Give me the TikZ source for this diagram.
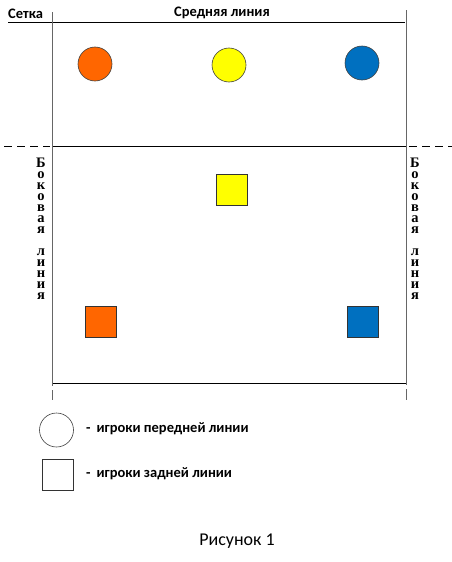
\documentclass[tikz,border=0pt]{standalone}
\usepackage{fontspec}
\setmainfont{Carlito}
\newfontfamily\serifside{Liberation Serif}
\begin{document}
\begin{tikzpicture}[x=1pt,y=-1pt,
  court/.style={line width=0.9pt,black},
  sidel/.style={line width=0.9pt,black!60},
  dashl/.style={line width=0.9pt,black,dash pattern=on 8pt off 5pt},
  player/.style={circle,draw=black!75,line width=0.6pt,minimum size=34pt,inner sep=0pt},
  back/.style={rectangle,draw=black!80,line width=0.7pt,minimum size=31pt,inner sep=0pt},
  sidechar/.style={inner sep=0pt,anchor=base,font=\serifside\bfseries\fontsize{14.5}{11}\selectfont},
  lbl/.style={inner sep=0pt,font=\bfseries\fontsize{14.5}{16}\selectfont},
  legtext/.style={inner sep=0pt,anchor=west,font=\bfseries\fontsize{14.5}{16}\selectfont}]
\useasboundingbox (0,0) rectangle (452,562);
\definecolor{porange}{HTML}{FF6600}
\definecolor{pyellow}{HTML}{FFFF00}
\definecolor{pblue}{HTML}{0070C0}
% court lines
\coordinate (tl) at (8,22);
\coordinate (tr) at (405,22);
\coordinate (ntl) at (52,146);
\coordinate (ntr) at (406,146);
\coordinate (bl) at (52,383);
\coordinate (br) at (406,383);
\draw[court] (tl) -- (tr);
\draw[court] (ntl) -- (ntr);
\draw[court] (bl) -- (br);
\draw[sidel] (52,12) -- (52,386);
\draw[sidel] (52,390) -- (52,400);
\draw[sidel] (406,10) -- (406,385);
\draw[sidel] (406,389) -- (406,400);
\draw[dashl] (4,146) -- (50,146);
\draw[dashl] (409,146) -- (452,146);
% labels
\node[lbl,anchor=south west] (setka) at (8,19) {Сетка};
\node[lbl,anchor=south] (mid) at (222,19) {Средняя линия};
\foreach \sx/\sn in {41/L,415/R}{
  \foreach \ch/\yy [count=\i] in {Б/167,о/178,к/189,о/200,в/211,а/222,я/233,л/255,и/266,н/277,и/288,я/299}{
    \node[sidechar] (side\sn\i) at (\sx,\yy) {\ch};
  }
}
% front players
\node[player,fill=porange] (f1) at (95,64) {};
\node[player,fill=pyellow] (f2) at (229,65) {};
\node[player,fill=pblue] (f3) at (362,63) {};
% back players
\node[back,fill=pyellow] (b1) at (231.5,189.5) {};
\node[back,fill=porange] (b2) at (100.5,321.5) {};
\node[back,fill=pblue] (b3) at (362.5,321.5) {};
% legend
\node[player,fill=white] (legc) at (56.5,430) {};
\node[back,fill=white] (legs) at (57.5,474.5) {};
\node[legtext] (legct) at (86,429) {-\hspace{6pt}игроки передней линии};
\node[legtext] (legst) at (86,474) {-\hspace{6pt}игроки задней линии};
\node[inner sep=0pt,font=\fontsize{18}{20}\selectfont] (fig) at (237,541) {Рисунок 1};
\end{tikzpicture}
\end{document}
